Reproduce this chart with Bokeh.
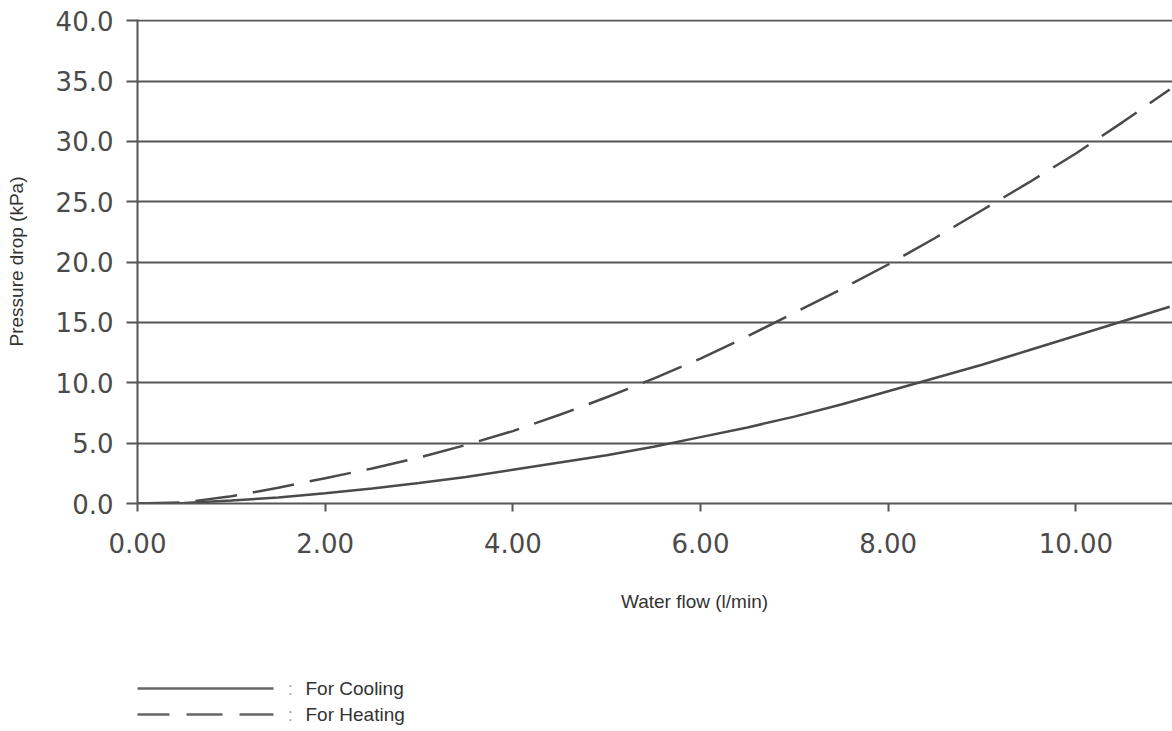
from bokeh.plotting import figure
from bokeh.models import Range1d, FixedTicker, NumeralTickFormatter
from bokeh.layouts import column
from bokeh.embed import file_html
from bokeh.resources import INLINE
from bokeh.core.properties import value

# ---- data ----
flow = [0.0, 0.5, 1.0, 1.5, 2.0, 2.5, 3.0, 3.5, 4.0, 4.5, 5.0, 5.5, 6.0, 6.5,
        7.0, 7.5, 8.0, 8.5, 9.0, 9.5, 10.0, 10.5, 11.0]
cooling = [0.0, 0.05, 0.25, 0.5, 0.85, 1.25, 1.7, 2.2, 2.8, 3.4, 4.0, 4.7, 5.5, 6.3,
           7.2, 8.2, 9.3, 10.4, 11.5, 12.7, 13.9, 15.1, 16.3]
heating = [0.0, 0.1, 0.6, 1.3, 2.1, 2.9, 3.8, 4.85, 6.0, 7.35, 8.8, 10.35, 12.0, 13.85,
           15.8, 17.75, 19.8, 22.0, 24.3, 26.6, 29.0, 31.6, 34.3]
x_ticks = [0, 2, 4, 6, 8, 10]
y_ticks = [0, 5, 10, 15, 20, 25, 30, 35, 40]
x_title = "Water flow (l/min)"
y_title = "Pressure drop (kPa)"
legend_labels = ["For Cooling", "For Heating"]

GRAY = "#555555"
CURVE = "#4a4a4a"
TEXT = "#333333"

p = figure(width=1172, height=565, output_backend="svg", toolbar_location=None,
           x_range=Range1d(0, 11.03), y_range=Range1d(0, 40.1),
           min_border_left=137, min_border_right=0, min_border_top=19,
           min_border_bottom=62)
p.outline_line_color = None
p.background_fill_color = "white"
p.border_fill_color = "white"

p.xgrid.visible = False
p.ygrid.grid_line_color = GRAY
p.ygrid.grid_line_width = 2
p.ygrid.ticker = FixedTicker(ticks=y_ticks)

for ax in (p.xaxis[0], p.yaxis[0]):
    ax.axis_line_color = GRAY
    ax.axis_line_width = 2
    ax.major_tick_line_color = GRAY
    ax.major_tick_line_width = 2
    ax.major_tick_in = 0
    ax.minor_tick_line_color = None
    ax.major_label_text_font = "DejaVu Sans"
    ax.major_label_text_font_size = "26px"
    ax.major_label_text_color = "#4a4a4a"

p.xaxis.ticker = FixedTicker(ticks=x_ticks)
p.xaxis.formatter = NumeralTickFormatter(format="0.00")
p.xaxis.major_tick_out = 8
p.xaxis.major_label_standoff = 21

p.yaxis.ticker = FixedTicker(ticks=y_ticks)
p.yaxis.formatter = NumeralTickFormatter(format="0.0")
p.yaxis.major_tick_out = 11
p.yaxis.major_label_standoff = 13
p.yaxis.axis_label = y_title
p.yaxis.axis_label_text_font = "Liberation Sans"
p.yaxis.axis_label_text_font_size = "19px"
p.yaxis.axis_label_text_font_style = "normal"
p.yaxis.axis_label_text_color = TEXT
p.yaxis.axis_label_standoff = 26

p.line(flow, cooling, line_color=CURVE, line_width=2.5)
p.line(flow, heating, line_color=CURVE, line_width=2.5, line_dash="42 16")

# ---- lower panel: x title + legend (page-pixel coordinates) ----
lg = figure(width=1172, height=166, output_backend="svg", toolbar_location=None,
            x_range=Range1d(137, 1172), y_range=Range1d(731, 565),
            min_border=0, min_border_left=0, min_border_right=0,
            min_border_top=0, min_border_bottom=0)
lg.axis.visible = False
lg.grid.visible = False
lg.outline_line_color = None

lg.text(x=[694], y=[601], text=[x_title], text_align="center", text_baseline="middle",
        text_font=value("Liberation Sans"), text_font_size="19px", text_color=TEXT)

ys = [688, 714]
dashes = ["solid", "36 17"]
for yy, dash, lab in zip(ys, dashes, legend_labels):
    lg.line([133, 273], [yy, yy], line_color="#666666", line_width=2.5, line_dash=dash)
    lg.text(x=[290], y=[yy], text=[":"], text_align="center", text_baseline="middle",
            text_font=value("Liberation Sans"), text_font_size="19px",
            text_color="#aaaaaa")
    lg.text(x=[305], y=[yy], text=[lab], text_align="left", text_baseline="middle",
            text_font=value("Liberation Sans"), text_font_size="19px",
            text_color=TEXT)

layout = column(p, lg, spacing=0)
open("out.html", "w").write(file_html(layout, INLINE))
